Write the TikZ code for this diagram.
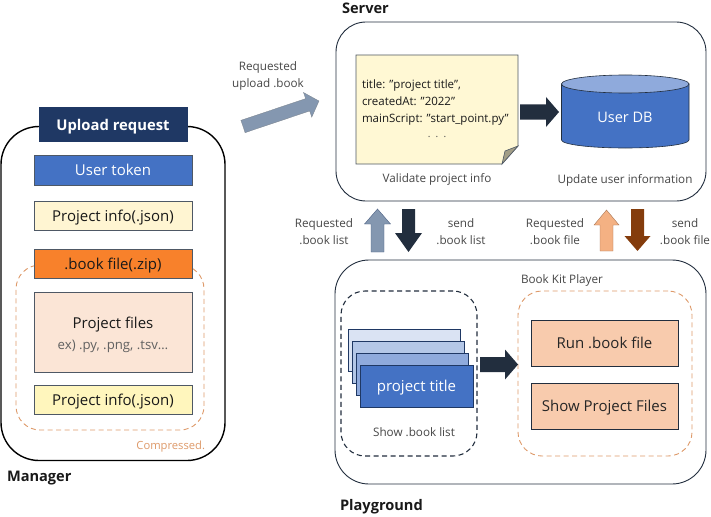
\documentclass[tikz,border=0pt]{standalone}
\usepackage{fontspec}
\setmainfont{Open Sans}
\usetikzlibrary{calc,shapes.geometric}
\definecolor{navy}{HTML}{1F3864}
\definecolor{ink}{HTML}{222E3E}
\definecolor{steel}{HTML}{4472C4}
\definecolor{cream}{HTML}{FFF5D2}
\definecolor{noteY}{HTML}{FFF8D4}
\definecolor{orangeB}{HTML}{F8812B}
\definecolor{peach}{HTML}{FBE5D6}
\definecolor{salmon}{HTML}{F8CBAD}
\definecolor{dashO}{HTML}{DE9A6A}
\definecolor{greyblue}{HTML}{8497B0}
\definecolor{lightO}{HTML}{F4B183}
\definecolor{brownA}{HTML}{843C0C}
\tikzset{
  x=1pt,y=-1pt,
  every node/.style={inner sep=0pt,outer sep=0pt,text depth=0pt},
  panel/.style={draw=ink,line width=0.9pt,fill=white,rounded corners=34pt},
  dashpanel/.style={line width=0.9pt,dash pattern=on 5pt off 3.5pt,rounded corners=24pt},
  rowbox/.style={draw=ink!80,line width=0.7pt,minimum width=158pt},
  runbox/.style={draw=ink,line width=0.7pt,fill=salmon,minimum width=147pt,minimum height=46pt,font=\fontsize{15}{18}\selectfont,text=black!85},
  card/.style={draw=navy,line width=0.8pt,minimum width=112pt,minimum height=42pt},
  head/.style={font=\fontsize{14.6}{17}\selectfont\bfseries,text=black!90},
  caption/.style={font=\fontsize{11.7}{17}\selectfont,text=black!72,align=center},
  row/.style={font=\fontsize{15}{18}\selectfont,text=black!90},
}
\newcommand{\blockarrow}[6]{%
  \coordinate (H) at ($(#3)!#6!(#2)$);
  \fill[#1] ($(#2)!#4!90:(#3)$) -- ($(H)!#4!90:(#3)$) -- ($(H)!#5!90:(#3)$) -- (#3)
    -- ($(H)!#5!-90:(#3)$) -- ($(H)!#4!-90:(#3)$) -- ($(#2)!#4!-90:(#3)$) -- cycle;}
\begin{document}
\begin{tikzpicture}
\useasboundingbox (0,0) rectangle (711,516);
% Manager
\node[panel,line width=1.4pt,draw=black,rounded corners=38pt,minimum width=224pt,minimum height=334pt] (manager) at (113,293.5) {};
\node[draw=dashO,dashpanel,minimum width=188pt,minimum height=165pt] (compressed) at (110,347.5) {};
\node[rowbox,fill=navy,draw=navy,minimum width=148pt,minimum height=34pt,text=white,font=\fontsize{14.8}{18}\selectfont\bfseries] (upload) at (113,124.5) {Upload request};
\node[rowbox,fill=steel,minimum height=30pt,row,text=white] (token) at (113,170) {User token};
\node[rowbox,fill=cream,minimum height=29pt,row] (info) at (113,216) {Project info(.json)};
\node[rowbox,fill=orangeB,minimum height=29pt,row] (book) at (113,263.5) {.book file(.zip)};
\node[rowbox,fill=peach,minimum height=80pt] (files) at (113,332) {};
\node[row] (filest) at (113,323) {Project files};
\node[font=\fontsize{13.2}{15}\selectfont,text=black!62] (filesx) at (113,345) {ex) .py, .png, .tsv…};
\node[rowbox,fill=cream!90!yellow,minimum height=29pt,row] (info2) at (113,400) {Project info(.json)};
\node[font=\fontsize{11.2}{13}\selectfont,text=dashO,anchor=east] (comp) at (205,445) {Compressed.};
\node[head,anchor=west] (mlabel) at (7,476) {Manager};
% Server
\node[panel,rounded corners=30pt,minimum width=370pt,minimum height=179pt] (server) at (521,111.5) {};
\node[head,anchor=west] (slabel) at (342,8) {Server};
\fill[noteY,draw=ink!80,line width=0.7pt] (356,55) -- (518,55) -- (518,146) -- (502,164) -- (356,164) -- cycle;
\fill[black!25!noteY!85!black,draw=ink!80,line width=0.6pt] (502,164) -- (505,151) -- (518,146) -- cycle;
\coordinate (noteE) at (520,112);
\node[font=\fontsize{11.5}{14}\selectfont,anchor=west,text=black!90] (n1) at (362,84) {title: "project title",};
\node[font=\fontsize{11.5}{14}\selectfont,anchor=west,text=black!90] (n2) at (362,101) {createdAt: "2022"};
\node[font=\fontsize{11.5}{14}\selectfont,anchor=west,text=black!90] (n3) at (362,118) {mainScript: "start\_point.py"};
\node[font=\fontsize{10}{12}\selectfont,text=black!70] (n4) at (437,137) {.~~.~~.};
\node[caption] (validate) at (437,178) {Validate project info};
% DB
\fill[steel,draw=ink,line width=0.6pt] (561.5,84) -- (561.5,140) arc[start angle=180,end angle=360,x radius=63.75pt,y radius=8pt] -- (689,84) -- cycle;
\draw[ink,line width=0.6pt,fill=steel!60!white] (625.25,84) ellipse[x radius=63.75pt,y radius=9pt];
\node[font=\fontsize{14.5}{17}\selectfont,text=white] (db) at (625,117) {User DB};
\node[caption] (update) at (625,179) {Update user information};
\coordinate (dbW) at (559,112);
\blockarrow{ink}{noteE}{dbW}{7.5pt}{15pt}{13pt}
% Upload arrow
\coordinate (ua) at (243,126.5);
\coordinate (ub) at (319,101);
\blockarrow{greyblue,draw=ink!60,line width=0.3pt}{ua}{ub}{6.5pt}{13pt}{12pt}
\node[caption] (ulabel) at (268,74.5) {Requested\\upload .book};
% Playground
\node[panel,rounded corners=34pt,minimum width=371pt,minimum height=224pt] (play) at (520.5,372) {};
\node[head,anchor=west] (plabel) at (340,505) {Playground};
\node[draw=ink,dashpanel,line width=1.1pt,minimum width=136pt,minimum height=165pt] (list) at (409,373.5) {};
\node[draw=dashO,dashpanel,minimum width=174pt,minimum height=165pt] (kit) at (605,373.5) {};
\node[card,fill=steel!20!white] (c1) at (404,350) {};
\node[card,fill=steel!40!white] (c2) at (408,362) {};
\node[card,fill=steel!60!white] (c3) at (412,374) {};
\node[card,fill=steel,minimum width=113pt,font=\fontsize{15}{18}\selectfont,text=white] (c4) at (416.5,386) {project title};
\node[caption] (show) at (414,432) {Show .book list};
\node[caption,anchor=west] (kitl) at (521,279) {Book Kit Player};
\node[runbox] (run) at (604.5,343) {Run .book file};
\node[runbox] (showf) at (604.5,406) {Show Project Files};
\coordinate (ca) at (480,364.5);
\coordinate (cb) at (518,364.5);
\blockarrow{ink}{ca}{cb}{7.5pt}{15pt}{13pt}
% Vertical arrows
\coordinate (a1) at (377.5,252);
\coordinate (a2) at (377.5,209);
\blockarrow{greyblue,draw=navy!80,line width=0.4pt}{a1}{a2}{6.5pt}{13pt}{15pt}
\coordinate (b1) at (408.5,209);
\coordinate (b2) at (408.5,252);
\blockarrow{ink}{b1}{b2}{6.5pt}{13.5pt}{19pt}
\coordinate (d1) at (606.5,251);
\coordinate (d2) at (606.5,210);
\blockarrow{lightO,draw=brownA!70,line width=0.4pt}{d1}{d2}{6.5pt}{12.5pt}{15pt}
\coordinate (e1) at (637.5,209);
\coordinate (e2) at (637.5,251);
\blockarrow{brownA}{e1}{e2}{6.5pt}{13pt}{15pt}
\node[caption] (l1) at (324,231.5) {Requested\\.book list};
\node[caption] (l2) at (461,231.5) {send\\.book list};
\node[caption] (l3) at (555,231.5) {Requested\\.book file};
\node[caption] (l4) at (685,231.5) {send\\.book file};
\end{tikzpicture}
\end{document}
